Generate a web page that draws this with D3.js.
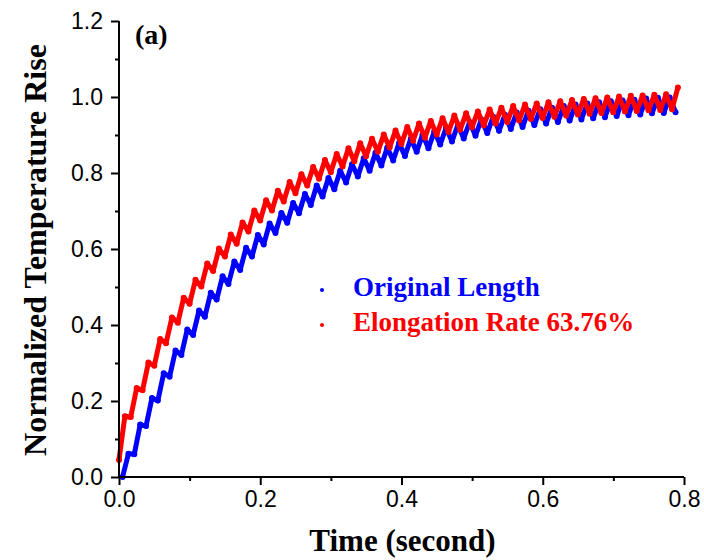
<!DOCTYPE html>
<html>
<head>
<meta charset="utf-8">
<script src="https://cdn.jsdelivr.net/npm/d3@7"></script>
<style>
  body { margin: 0; background: #fff; }
  svg { display: block; }
</style>
</head>
<body>
<div id="chart"></div>
<script>
// sampling of the zigzag vertices (seconds)
const blueT0 = 0.005, redT0 = 0.0, dt = 0.00833;

// Original Length (blue), values at each zigzag vertex
const blueVals = [
  0.000, 0.061, 0.060, 0.138, 0.134, 0.208, 0.201, 0.273, 0.264, 0.333,
  0.321, 0.388, 0.374, 0.438, 0.422, 0.485, 0.467, 0.528, 0.508, 0.567,
  0.545, 0.603, 0.580, 0.637, 0.612, 0.667, 0.642, 0.695, 0.669, 0.721,
  0.694, 0.745, 0.716, 0.767, 0.738, 0.787, 0.757, 0.806, 0.775, 0.823,
  0.791, 0.839, 0.806, 0.853, 0.820, 0.867, 0.833, 0.879, 0.845, 0.890,
  0.856, 0.901, 0.865, 0.910, 0.875, 0.919, 0.883, 0.927, 0.891, 0.934,
  0.898, 0.941, 0.905, 0.948, 0.911, 0.953, 0.916, 0.959, 0.921, 0.964,
  0.926, 0.968, 0.930, 0.972, 0.934, 0.976, 0.938, 0.980, 0.941, 0.983,
  0.944, 0.986, 0.947, 0.989, 0.950, 0.991, 0.952, 0.993, 0.954, 0.996,
  0.957, 0.998, 0.958, 0.999, 0.960
];

// Elongation Rate 63.76% (red)
const redVals = [
  0.045, 0.160, 0.158, 0.234, 0.228, 0.301, 0.293, 0.363, 0.352, 0.420,
  0.406, 0.472, 0.456, 0.519, 0.501, 0.562, 0.542, 0.601, 0.580, 0.638,
  0.614, 0.670, 0.646, 0.701, 0.675, 0.728, 0.701, 0.753, 0.725, 0.776,
  0.747, 0.797, 0.767, 0.816, 0.785, 0.834, 0.802, 0.850, 0.817, 0.865,
  0.831, 0.878, 0.844, 0.890, 0.856, 0.901, 0.867, 0.912, 0.876, 0.921,
  0.885, 0.930, 0.893, 0.937, 0.901, 0.944, 0.908, 0.951, 0.914, 0.957,
  0.920, 0.962, 0.925, 0.967, 0.930, 0.972, 0.934, 0.976, 0.938, 0.980,
  0.942, 0.983, 0.945, 0.986, 0.948, 0.989, 0.951, 0.992, 0.954, 0.995,
  0.956, 0.997, 0.958, 0.999, 0.960, 1.001, 0.962, 1.003, 0.963, 1.004,
  0.965, 1.006, 0.966, 1.007, 0.968, 1.025
];

const xTicks = [0.0, 0.2, 0.4, 0.6, 0.8];
const yTicks = [0.0, 0.2, 0.4, 0.6, 0.8, 1.0, 1.2];
const xMinor = [0.1, 0.3, 0.5, 0.7];
const yMinor = [0.1, 0.3, 0.5, 0.7, 0.9, 1.1];

const legendLabels = ["Original Length", "Elongation Rate 63.76%"];
const colors = ["#0000ff", "#ff0000"];

const W = 704, H = 560;
const margin = { top: 21, right: 20, bottom: 83, left: 119 },
  width = W - margin.left - margin.right,
  height = H - margin.top - margin.bottom;

const svg = d3.select("#chart").append("svg")
  .attr("width", W)
  .attr("height", H);

const g = svg.append("g")
  .attr("transform", `translate(${margin.left},${margin.top})`);

const x = d3.scaleLinear().domain([0, 0.8]).range([0, width]);
const y = d3.scaleLinear().domain([0, 1.2]).range([height, 0]);

const series = [
  blueVals.map((v, i) => ({ t: blueT0 + i * dt, v })),
  redVals.map((v, i) => ({ t: redT0 + i * dt, v }))
];

const line = d3.line().x(d => x(d.t)).y(d => y(d.v));

series.forEach((s, i) => {
  g.append("path")
    .datum(s)
    .attr("fill", "none")
    .attr("stroke", colors[i])
    .attr("stroke-width", 5)
    .attr("stroke-linejoin", "round")
    .attr("stroke-linecap", "round")
    .attr("d", line);
  g.append("g").selectAll("circle")
    .data(s)
    .join("circle")
    .attr("cx", d => x(d.t))
    .attr("cy", d => y(d.v))
    .attr("r", 3)
    .attr("fill", colors[i]);
});

// axes
const tickFont = "'Liberation Sans', Arial, sans-serif";

const xAxis = g.append("g")
  .attr("transform", `translate(0,${height})`)
  .call(d3.axisBottom(x).tickValues(xTicks).tickSize(8).tickPadding(6)
    .tickFormat(d3.format(".1f")));
g.append("g")
  .attr("transform", `translate(0,${height})`)
  .call(d3.axisBottom(x).tickValues(xMinor).tickSize(4).tickFormat(""))
  .call(a => a.select(".domain").remove());

const yAxis = g.append("g")
  .call(d3.axisLeft(y).tickValues(yTicks).tickSize(8).tickPadding(8)
    .tickFormat(d3.format(".1f")));
g.append("g")
  .call(d3.axisLeft(y).tickValues(yMinor).tickSize(4).tickFormat(""))
  .call(a => a.select(".domain").remove());

g.selectAll(".domain").attr("stroke", "#000").attr("stroke-width", 2);
g.selectAll(".tick line").attr("stroke", "#000").attr("stroke-width", 2);
g.selectAll(".tick text")
  .attr("font-family", tickFont)
  .attr("font-size", 23)
  .attr("fill", "#000");

// outward domain without end caps
xAxis.select(".domain").attr("d", `M0,0H${width}`);
yAxis.select(".domain").attr("d", `M0,${height}V0`);

// titles
const serif = "'Liberation Serif', 'Times New Roman', serif";
svg.append("text")
  .attr("x", margin.left + width / 2 + 1)
  .attr("y", 551)
  .attr("text-anchor", "middle")
  .attr("font-family", serif)
  .attr("font-weight", "bold")
  .attr("font-size", 31)
  .text("Time (second)");

svg.append("text")
  .attr("transform", `translate(46,250) rotate(-90)`)
  .attr("text-anchor", "middle")
  .attr("font-family", serif)
  .attr("font-weight", "bold")
  .attr("font-size", 32)
  .text("Normalized Temperature Rise");

svg.append("text")
  .attr("x", 135)
  .attr("y", 44)
  .attr("font-family", serif)
  .attr("font-weight", "bold")
  .attr("font-size", 28)
  .text("(a)");

// legend
const legend = svg.append("g");
legendLabels.forEach((lab, i) => {
  const ly = 296 + i * 35;
  legend.append("circle")
    .attr("cx", 322)
    .attr("cy", ly - 6)
    .attr("r", 2)
    .attr("fill", colors[i]);
  legend.append("text")
    .attr("x", 353)
    .attr("y", ly)
    .attr("font-family", serif)
    .attr("font-weight", "bold")
    .attr("font-size", 27)
    .attr("fill", colors[i])
    .text(lab);
});
</script>
</body>
</html>
